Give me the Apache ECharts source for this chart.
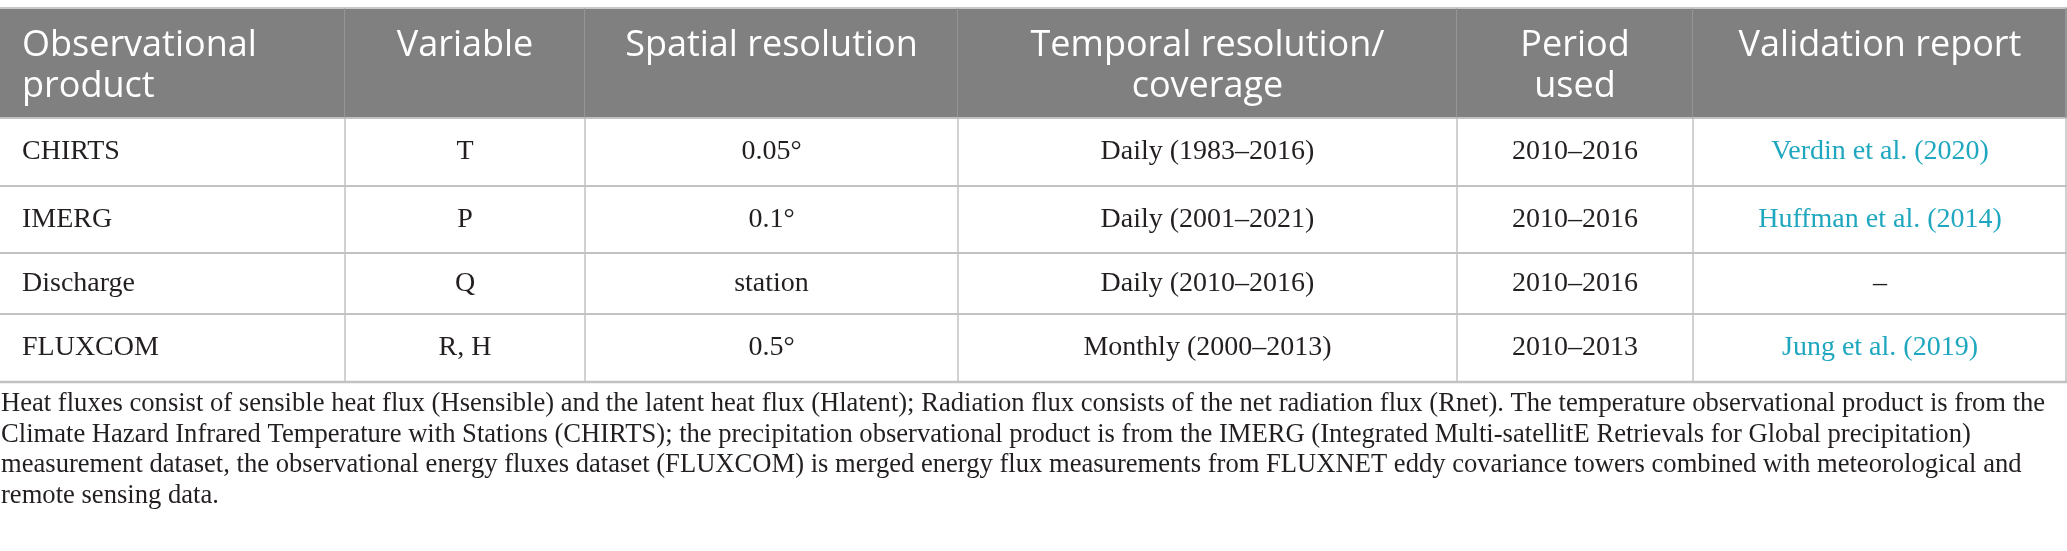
<!DOCTYPE html>
<html>
<head>
<meta charset="utf-8">
<script src="https://cdn.jsdelivr.net/npm/echarts@6/dist/echarts.min.js"></script>
<style>
  html, body { margin: 0; padding: 0; background: #fff; }
  #container { width: 2067px; height: 551px; }
</style>
</head>
<body>
<div id="container"></div>
<script>
// table content
var headers = ['Observational\nproduct', 'Variable', 'Spatial resolution', 'Temporal resolution/\ncoverage', 'Period\nused', 'Validation report'];
var products = ['CHIRTS', 'IMERG', 'Discharge', 'FLUXCOM'];
var variables = ['T', 'P', 'Q', 'R, H'];
var spatialRes = ['0.05°', '0.1°', 'station', '0.5°'];
var temporalRes = ['Daily (1983–2016)', 'Daily (2001–2021)', 'Daily (2010–2016)', 'Monthly (2000–2013)'];
var periodUsed = ['2010–2016', '2010–2016', '2010–2016', '2010–2013'];
var validation = ['Verdin et al. (2020)', 'Huffman et al. (2014)', '–', 'Jung et al. (2019)'];
var footnote = [
    'Heat fluxes consist of sensible heat flux (Hsensible) and the latent heat flux (Hlatent); Radiation flux consists of the net radiation flux (Rnet). The temperature observational product is from the',
    'Climate Hazard Infrared Temperature with Stations (CHIRTS); the precipitation observational product is from the IMERG (Integrated Multi-satellitE Retrievals for Global precipitation)',
    'measurement dataset, the observational energy fluxes dataset (FLUXCOM) is merged energy flux measurements from FLUXNET eddy covariance towers combined with meteorological and',
    'remote sensing data.'
];

// layout (axis units = pixels of the table box)
var colEdges = [0, 345, 585, 958, 1457, 1693, 2067];
var rowEdges = [0, 110, 178, 245, 306, 374];

var columns = [products, variables, spatialRes, temporalRes, periodUsed, validation];
var cells = [];
headers.forEach(function (h, c) {
    cells.push({ value: [c, 0], text: h });
});
for (var r = 0; r < products.length; r++) {
    for (var c = 0; c < columns.length; c++) {
        cells.push({ value: [c, r + 1], text: columns[c][r] });
    }
}

var dom = document.getElementById('container');
var myChart = echarts.init(dom);

function renderCell(params, api) {
    var c = api.value(0);
    var r = api.value(1);
    var text = cells[params.dataIndex].text;
    var p0 = api.coord([colEdges[c], rowEdges[r]]);
    var p1 = api.coord([colEdges[c + 1], rowEdges[r + 1]]);
    var isHead = r === 0;
    var lastRow = r === rowEdges.length - 2;
    var rightX = c === colEdges.length - 2 ? p1[0] - 1 : p1[0];
    var children = [];

    if (isHead) {
        children.push({
            type: 'rect',
            shape: { x: p0[0], y: p0[1], width: p1[0] - p0[0], height: p1[1] - p0[1] },
            style: { fill: '#7f807f' }
        });
        children.push({
            type: 'line',
            shape: { x1: p0[0], y1: p0[1], x2: p1[0], y2: p0[1] },
            style: { stroke: '#c8c8c8', lineWidth: 2 }
        });
    }
    children.push({
        type: 'line',
        shape: { x1: p0[0], y1: p1[1], x2: p1[0], y2: p1[1] },
        style: { stroke: '#c2c2c2', lineWidth: lastRow ? 2.5 : 2 }
    });
    children.push({
        type: 'line',
        shape: { x1: rightX, y1: p0[1], x2: rightX, y2: p1[1] },
        style: { stroke: isHead ? '#9c9c9c' : '#c2c2c2', lineWidth: 1.5 }
    });

    var left = c === 0;
    var tx = left ? p0[0] + 22 : (p0[0] + p1[0]) / 2;
    if (isHead) {
        children.push({
            type: 'text',
            x: tx,
            y: p0[1] + 17,
            style: {
                text: text,
                fill: '#ffffff',
                font: '36px "Open Sans"',
                lineHeight: 41,
                align: left ? 'left' : 'center',
                verticalAlign: 'top'
            }
        });
    } else {
        var isLink = c === 5 && text !== '–';
        children.push({
            type: 'text',
            x: tx,
            y: (p0[1] + p1[1]) / 2,
            style: {
                text: text,
                fill: isLink ? '#1fa7bf' : '#231f20',
                font: '28px "Liberation Serif"',
                align: left ? 'left' : 'center',
                verticalAlign: 'middle'
            }
        });
    }
    return { type: 'group', children: children };
}

var option = {
    animation: false,
    title: {
        text: footnote.join('\n'),
        left: 1,
        top: 389,
        padding: 0,
        textStyle: {
            fontFamily: 'Liberation Serif',
            fontWeight: 'normal',
            fontSize: 26.6,
            lineHeight: 30.5,
            color: '#231f20'
        }
    },
    grid: {
        left: 0,
        top: 8,
        width: 2067,
        height: 374
    },
    xAxis: {
        type: 'value',
        min: 0,
        max: 2067,
        show: false
    },
    yAxis: {
        type: 'value',
        min: 0,
        max: 374,
        inverse: true,
        show: false
    },
    series: [{
        type: 'custom',
        renderItem: renderCell,
        clip: false,
        silent: true,
        data: cells
    }]
};

if (option && typeof option === "object") {
    myChart.setOption(option, true);
}
</script>
</body>
</html>
